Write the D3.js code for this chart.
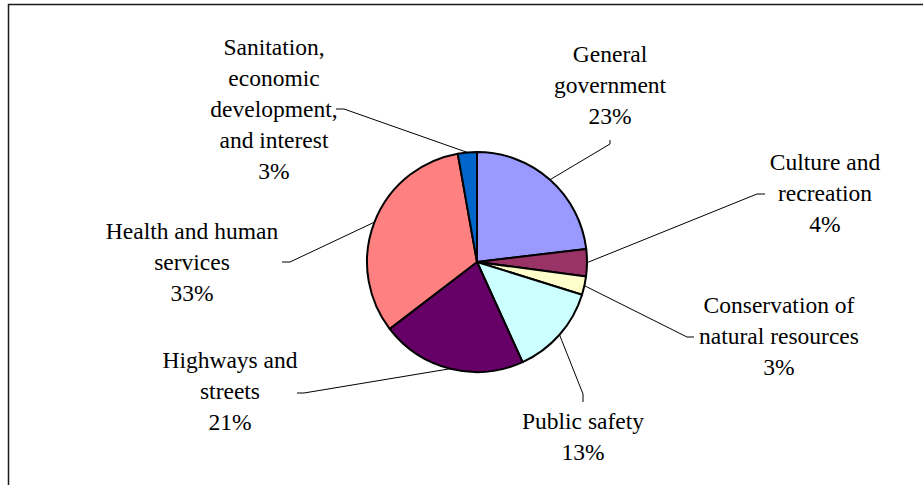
<!DOCTYPE html>
<html>
<head>
<meta charset="utf-8">
<script src="https://cdn.jsdelivr.net/npm/d3@7"></script>
<style>
	body { margin: 0; background: #fff; }
	svg text { font-family: "Liberation Serif", "Times New Roman", Times, Tinos, "Noto Serif", "DejaVu Serif", FreeSerif, serif; font-size: 23.5px; fill: #000; }
</style>
</head>
<body>
<svg id="vis" width="923" height="485"></svg>
<script>
// Slices, clockwise from 12 o'clock
const categories = [
	"General government",
	"Culture and recreation",
	"Conservation of natural resources",
	"Public safety",
	"Highways and streets",
	"Health and human services",
	"Sanitation, economic development, and interest"
];
// share of spending, in percent
const shares = [23.1, 4.0, 2.7, 13.4, 21.4, 32.6, 2.8];
const colors = ["#9999FF", "#993366", "#FFFFCC", "#CCFFFF", "#660066", "#FF8080", "#0066CC"];
// how the label text is broken into lines
const labelLines = [
	["General", "government"],
	["Culture and", "recreation"],
	["Conservation of", "natural resources"],
	["Public safety"],
	["Highways and", "streets"],
	["Health and human", "services"],
	["Sanitation,", "economic", "development,", "and interest"]
];

// label layout: text centre x, first baseline, leader elbow and tick end
const labelLayout = [
	{x: 610, y: 62,  elbow: [610, 144], tick: [610, 140]},
	{x: 825, y: 170, elbow: [757, 194], tick: [765, 194]},
	{x: 779, y: 313, elbow: [687, 337], tick: [694, 337]},
	{x: 583, y: 429, elbow: [583, 394], tick: [583, 402]},
	{x: 230, y: 368, elbow: [304, 393], tick: [297, 393]},
	{x: 192, y: 239, elbow: [290, 262], tick: [282, 262]},
	{x: 274, y: 55,  elbow: [344, 109], tick: [336, 109]}
];

const cx = 477, cy = 262, radius = 110, lineStep = 31;

const svg = d3.select("svg#vis");

// outer frame (runs past the right and bottom edge of the picture)
svg.append("rect")
	.attr("x", 8.5)
	.attr("y", 4.5)
	.attr("width", 960)
	.attr("height", 520)
	.attr("fill", "none")
	.attr("stroke", "#1a1a1a")
	.attr("stroke-width", 1.5);

const data = categories.map((c, i) => ({name: c, value: shares[i], color: colors[i], lines: labelLines[i], layout: labelLayout[i]}));

const pie = d3.pie()
	.value(d => d.value)
	.sort(null);

const arc = d3.arc()
	.innerRadius(0)
	.outerRadius(radius);

const arcs = pie(data);

const g = svg.append("g")
	.attr("transform", translate(cx, cy));

// leader lines, drawn first so slices sit on top
const leaders = svg.append("g").attr("class", "leaders");
leaders.selectAll("polyline")
	.data(arcs)
	.enter()
	.append("polyline")
	.attr("points", d => {
		const a = (d.startAngle + d.endAngle) / 2;
		const p = [cx + radius * Math.sin(a), cy - radius * Math.cos(a)];
		return [p, d.data.layout.elbow, d.data.layout.tick].map(q => q.join(",")).join(" ");
	})
	.attr("fill", "none")
	.attr("stroke", "#000")
	.attr("stroke-width", 1);

g.selectAll("path.slice")
	.data(arcs)
	.enter()
	.append("path")
	.attr("class", "slice")
	.attr("d", arc)
	.attr("fill", d => d.data.color)
	.attr("stroke", "#000")
	.attr("stroke-width", 2)
	.attr("stroke-linejoin", "round");

// labels: name lines then the rounded percentage
const fmt = d3.format(".0f");
const labels = svg.append("g").attr("class", "labels");
arcs.forEach(d => {
	const lay = d.data.layout;
	const lines = d.data.lines.concat([fmt(d.data.value) + "%"]);
	const t = labels.append("text")
		.attr("text-anchor", "middle");
	lines.forEach((s, i) => {
		t.append("tspan")
			.attr("x", lay.x)
			.attr("y", lay.y + i * lineStep)
			.text(s);
	});
});

//Helper functions
function translate(x, y) {
	return 'translate(' + x + ',' + y + ')';
}
</script>
</body>
</html>
